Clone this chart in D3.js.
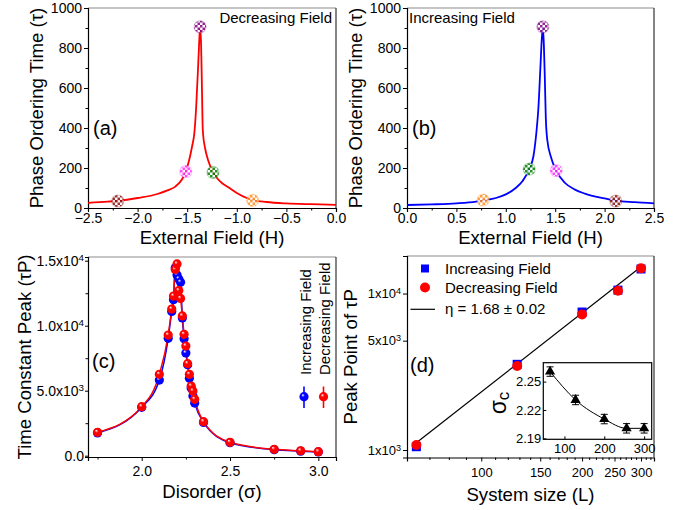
<!DOCTYPE html>
<html>
<head>
<meta charset="utf-8">
<script src="https://cdn.jsdelivr.net/npm/d3@7.9.0/dist/d3.min.js"></script>
<style>
body{margin:0;background:#fff}
svg{font-family:"Liberation Sans",Arial,sans-serif}
</style>
</head>
<body>
<svg id="chart" width="689" height="510"></svg>
<script>
// (a) decreasing field curve
const decH   = [-2.5,-2.3,-2.2,-2.0,-1.8,-1.7,-1.62,-1.55,-1.515,-1.48,-1.45,-1.428,-1.41,-1.39,-1.38,-1.37,-1.36,-1.355,-1.35,-1.345,-1.34,-1.32,-1.29,-1.24,-1.2,-1.15,-1.09,-1.0,-0.9,-0.84,-0.7,-0.5,-0.25,0];
const decTau = [26,32,36,50,70,88,107,145,182,240,310,374,500,707,820,900,820,700,560,420,370,300,240,180,150,125,105,75,50,40,30,23,19,16];
const decMarkH   = [-2.2,-1.515,-1.37,-1.24,-0.84];
const decMarkTau = [35,182,906,178,38];
const decMarkCol = ["brown","magenta","purple","green","orange"];

// (b) increasing field curve
const incH   = [0,0.25,0.5,0.7,0.77,0.9,1.0,1.1,1.17,1.237,1.28,1.31,1.33,1.35,1.365,1.375,1.385,1.395,1.405,1.42,1.46,1.51,1.6,1.7,1.8,2.0,2.113,2.3,2.5];
const incTau = [15,18,23,32,38,50,68,100,135,194,260,380,500,700,850,900,820,650,450,340,250,187,125,92,72,48,37,29,23];
const incMarkH   = [0.77,1.237,1.375,1.51,2.113];
const incMarkTau = [40,194,906,187,35];
const incMarkCol = ["orange","green","purple","magenta","brown"];

// (c) time constant peak vs disorder
const sigma  = [1.75,2.00,2.10,2.15,2.17,2.18,2.19,2.20,2.21,2.22,2.23,2.24,2.25,2.26,2.27,2.28,2.29,2.30,2.35,2.50,2.75,2.90,3.00];
const tpDec  = [1800,3770,6260,9280,11280,12280,14330,14750,12700,12100,10750,9340,8440,7080,6260,5360,4980,4340,2620,1030,490,380,310];
const tpInc  = [1750,3720,5820,9030,11100,12000,14450,13900,13600,13350,10600,9000,7900,7000,5950,5200,4600,4050,2560,1000,460,350,290];

// (d) peak point vs system size
const sizeL   = [64,128,200,256,300];
const peakInc = [1050,3530,7620,10520,14360];
const peakDec = [1076,3444,7360,10420,14490];
const fitL    = [64,300];
const fitTau  = [1113,14830];

// inset: critical disorder
const sigmaC    = [2.2606,2.2306,2.2104,2.2006,2.2006];
const sigmaCErr = [0.005,0.005,0.005,0.005,0.005];

const colors = {brown:"#8b1010", magenta:"#ff30ff", purple:"#800080", green:"#008000", orange:"#ff8c1a"};

const svg = d3.select("#chart");
const defs = svg.append("defs");

Object.entries(colors).forEach(([k, c]) => {
    const p = defs.append("pattern").attr("id", "chk-" + k)
        .attr("patternUnits", "userSpaceOnUse").attr("width", 5).attr("height", 5);
    p.append("rect").attr("width", 5).attr("height", 5).attr("fill", "#fff");
    p.append("rect").attr("width", 2.5).attr("height", 2.5).attr("fill", c);
    p.append("rect").attr("x", 2.5).attr("y", 2.5).attr("width", 2.5).attr("height", 2.5).attr("fill", c);
});

function sphereGrad(id, c) {
    const g = defs.append("radialGradient").attr("id", id)
        .attr("cx", "50%").attr("cy", "50%").attr("r", "55%").attr("fx", "35%").attr("fy", "30%");
    g.append("stop").attr("offset", "0%").attr("stop-color", "#fff");
    g.append("stop").attr("offset", "35%").attr("stop-color", c);
    g.append("stop").attr("offset", "100%").attr("stop-color", c);
}
sphereGrad("sph-red", "#ff0000");
sphereGrad("sph-blue", "#0000ff");

// top + right border
function box(x0, x1, y0, y1) {
    svg.append("line").attr("x1", x0).attr("x2", x1).attr("y1", y0).attr("y2", y0)
        .attr("stroke", "#8c8c8c").attr("stroke-width", 1.2);
    svg.append("line").attr("x1", x1).attr("x2", x1).attr("y1", y0).attr("y2", y1)
        .attr("stroke", "#333").attr("stroke-width", 1.2);
}

function styleAxis(g, fs) {
    g.select(".domain").attr("stroke", "#000").attr("stroke-width", 1.2);
    g.selectAll(".tick line").attr("stroke", "#000");
    g.selectAll(".tick text").attr("font-size", fs).attr("fill", "#000").attr("font-family", null);
}

function sciText(g, base, exp) {
    g.selectAll(".tick text").each(function(d, i) {
        const t = d3.select(this).text(null);
        t.append("tspan").text(base[i]);
        if (exp[i]) t.append("tspan").attr("dy", "-0.45em").attr("font-size", "0.7em").text(exp[i]);
    });
}

function yTitle(x, y, txt) {
    return svg.append("text").attr("transform", `translate(${x},${y}) rotate(-90)`)
        .attr("text-anchor", "middle").attr("font-size", 18.6).text(txt);
}
function xTitle(x, y, txt) {
    return svg.append("text").attr("x", x).attr("y", y)
        .attr("text-anchor", "middle").attr("font-size", 18.6).text(txt);
}

// ---------- panels (a) and (b) ----------
function fieldPanel(left, right, xDom, xTickVals, H, tau, mH, mTau, mCol, lineCol, note, noteAnchor, tag) {
    const top = 8, bottom = 208;
    const x = d3.scaleLinear().domain(xDom).range([left, right]);
    const y = d3.scaleLinear().domain([0, 1000]).range([bottom, top]);

    box(left, right, top, bottom);
    svg.append("g").attr("transform", `translate(0,${bottom})`)
        .call(d3.axisBottom(x).tickValues(d3.range(xDom[0] + 0.25, xDom[1], 0.5)).tickSize(2.5).tickFormat(""))
        .call(g => g.select(".domain").remove());
    svg.append("g").attr("transform", `translate(${left},0)`)
        .call(d3.axisLeft(y).tickValues(d3.range(100, 1000, 200)).tickSize(2.5).tickFormat(""))
        .call(g => g.select(".domain").remove());
    svg.append("g").attr("transform", `translate(0,${bottom})`)
        .call(d3.axisBottom(x).tickValues(xTickVals).tickSize(4).tickPadding(1.5).tickFormat(d3.format(".1f")))
        .call(g => styleAxis(g, 14));
    svg.append("g").attr("transform", `translate(${left},0)`)
        .call(d3.axisLeft(y).tickValues([0, 200, 400, 600, 800, 1000]).tickSize(4).tickPadding(2).tickFormat(d3.format("d")))
        .call(g => styleAxis(g, 14));

    const line = d3.line().x((d, i) => x(H[i])).y((d, i) => y(tau[i])).curve(d3.curveMonotoneX);
    svg.append("path").attr("d", line(H)).attr("fill", "none")
        .attr("stroke", lineCol).attr("stroke-width", 1.8);

    svg.append("g").selectAll("circle").data(mH).join("circle")
        .attr("cx", d => x(d)).attr("cy", (d, i) => y(mTau[i])).attr("r", 6)
        .attr("fill", (d, i) => `url(#chk-${mCol[i]})`)
        .attr("stroke", (d, i) => colors[mCol[i]]).attr("stroke-opacity", 0.35).attr("stroke-width", 1.2)
        .attr("opacity", 0.85);

    svg.append("text").attr("x", noteAnchor === "end" ? right - 4 : left + 2).attr("y", 23)
        .attr("text-anchor", noteAnchor).attr("font-size", 15).text(note);
    svg.append("text").attr("x", left + 5).attr("y", 135).attr("font-size", 20).text(tag);
    yTitle(left - 45, (top + bottom) / 2, "Phase Ordering Time (τ)");
    xTitle((left + right) / 2, 243.5, "External Field (H)");
}

fieldPanel(88, 336, [-2.5, 0], [-2.5, -2.0, -1.5, -1.0, -0.5, 0.0], decH, decTau,
    decMarkH, decMarkTau, decMarkCol, "#ff0000", "Decreasing Field", "end", "(a)");
fieldPanel(407, 654, [0, 2.5], [0.0, 0.5, 1.0, 1.5, 2.0, 2.5], incH, incTau,
    incMarkH, incMarkTau, incMarkCol, "#0000ff", "Increasing Field", "start", "(b)");

// ---------- panel (c) ----------
{
    const left = 88, right = 336, top = 257, bottom = 457;
    const x = d3.scaleLinear().domain([1.696, 3.1]).range([left, right]);
    const y = d3.scaleLinear().domain([-100, 15285]).range([bottom, top]);

    box(left, right, top, bottom);
    svg.append("g").attr("transform", `translate(0,${bottom})`)
        .call(d3.axisBottom(x).tickValues([1.75, 2.25, 2.75]).tickSize(2.5).tickFormat(""))
        .call(g => g.select(".domain").remove());
    svg.append("g").attr("transform", `translate(${left},0)`)
        .call(d3.axisLeft(y).tickValues([2500, 7500, 12500]).tickSize(2.5).tickFormat(""))
        .call(g => g.select(".domain").remove());
    svg.append("g").attr("transform", `translate(0,${bottom})`)
        .call(d3.axisBottom(x).tickValues([2.0, 2.5, 3.0]).tickSize(4).tickPadding(5).tickFormat(d3.format(".1f")))
        .call(g => styleAxis(g, 14));
    svg.append("g").attr("transform", `translate(${left},0)`)
        .call(d3.axisLeft(y).tickValues([0, 5000, 10000, 15000]).tickSize(3).tickPadding(1))
        .call(g => styleAxis(g, 14))
        .call(g => sciText(g, ["0.0", "5.0x10", "1.0x10", "1.5x10"], ["", "3", "4", "4"]));

    const lineInc = d3.line().x((d, i) => x(sigma[i])).y(d => y(d)).curve(d3.curveMonotoneX);
    svg.append("path").attr("d", lineInc(tpInc)).attr("fill", "none").attr("stroke", "#0000ff").attr("stroke-width", 1.5);
    svg.append("path").attr("d", lineInc(tpDec)).attr("fill", "none").attr("stroke", "#ff0000").attr("stroke-width", 1.5);

    svg.append("g").selectAll("circle").data(tpInc).join("circle")
        .attr("cx", (d, i) => x(sigma[i])).attr("cy", d => y(d)).attr("r", 4.6).attr("fill", "url(#sph-blue)");
    svg.append("g").selectAll("circle").data(tpDec).join("circle")
        .attr("cx", (d, i) => x(sigma[i])).attr("cy", d => y(d)).attr("r", 4.6).attr("fill", "url(#sph-red)");

    // legend
    [["#0000ff", "sph-blue", 304, "Increasing Field", 311], ["#ff0000", "sph-red", 323.5, "Decreasing Field", 329.5]]
        .forEach(([c, g, cx, t, tx]) => {
            svg.append("line").attr("x1", cx).attr("x2", cx).attr("y1", 386.5).attr("y2", 408)
                .attr("stroke", c).attr("stroke-width", 1.6);
            svg.append("circle").attr("cx", cx).attr("cy", 396.7).attr("r", 4.6).attr("fill", `url(#${g})`);
            svg.append("text").attr("transform", `translate(${tx},375) rotate(-90)`)
                .attr("font-size", 15).text(t);
        });

    svg.append("text").attr("x", 92).attr("y", 368).attr("font-size", 20).text("(c)");
    yTitle(31, (top + bottom) / 2, "Time Constant Peak (τP)");
    xTitle((left + right) / 2, 498, "Disorder (σ)");
}

// ---------- panel (d) ----------
{
    const left = 407, right = 654, top = 256, bottom = 457.5;
    const x = d3.scaleLog().domain([60, 328]).range([left, right]);
    const y = d3.scaleLog().domain([896, 17380]).range([bottom, top]);

    box(left, right, top, bottom);
    svg.append("g").attr("transform", `translate(0,${bottom})`)
        .call(d3.axisBottom(x).tickValues(d3.range(60, 330, 10).filter(v => v % 50)).tickSize(2.5).tickFormat(""))
        .call(g => g.select(".domain").remove());
    svg.append("g").attr("transform", `translate(0,${bottom})`)
        .call(d3.axisBottom(x).tickValues([100, 150, 200, 250, 300]).tickSize(4).tickPadding(6).tickFormat(d3.format("d")))
        .call(g => styleAxis(g, 13));
    svg.append("g").attr("transform", `translate(${left},0)`)
        .call(d3.axisLeft(y).tickValues([1000, 5000, 10000]).tickSize(4).tickPadding(2))
        .call(g => styleAxis(g, 13))
        .call(g => sciText(g, ["1x10", "5x10", "1x10"], ["3", "3", "4"]));

    const fit = d3.line().x((d, i) => x(fitL[i])).y(d => y(d));
    svg.append("path").attr("d", fit(fitTau)).attr("fill", "none").attr("stroke", "#000").attr("stroke-width", 1.2);

    svg.append("g").selectAll("rect").data(peakInc).join("rect")
        .attr("x", (d, i) => x(sizeL[i]) - 4.5).attr("y", d => y(d) - 4.5)
        .attr("width", 9).attr("height", 9).attr("fill", "#0000ff");
    svg.append("g").selectAll("circle").data(peakDec).join("circle")
        .attr("cx", (d, i) => x(sizeL[i])).attr("cy", d => y(d)).attr("r", 5).attr("fill", "#ff0000");

    // legend
    svg.append("rect").attr("x", 421).attr("y", 264.5).attr("width", 8).attr("height", 8).attr("fill", "#0000ff");
    svg.append("text").attr("x", 445).attr("y", 274).attr("font-size", 15).text("Increasing Field");
    svg.append("circle").attr("cx", 425).attr("cy", 287.5).attr("r", 5).attr("fill", "#ff0000");
    svg.append("text").attr("x", 445).attr("y", 292.7).attr("font-size", 15).text("Decreasing Field");
    svg.append("line").attr("x1", 410.5).attr("x2", 435).attr("y1", 309.3).attr("y2", 309.3).attr("stroke", "#000").attr("stroke-width", 1.2);
    svg.append("text").attr("x", 445).attr("y", 313.5).attr("font-size", 15).text("η = 1.68 ± 0.02");

    svg.append("text").attr("x", 410).attr("y", 372).attr("font-size", 20).text("(d)");
    yTitle(356.5, (top + bottom) / 2, "Peak Point of τP");
    xTitle((left + right) / 2, 501, "System size (L)");

    // inset
    const il = 543.3, ir = 651.7, it = 362.7, ib = 439.3;
    const xi = d3.scaleLinear().domain([47, 319]).range([il, ir]);
    const yi = d3.scaleLinear().domain([2.189, 2.27]).range([ib, it]);
    svg.append("rect").attr("x", il).attr("y", it).attr("width", ir - il).attr("height", ib - it)
        .attr("fill", "#fff").attr("stroke", "#000").attr("stroke-width", 1.2);
    svg.append("g").attr("transform", `translate(0,${ib})`)
        .call(d3.axisBottom(xi).tickValues([100, 200, 300]).tickSize(-3).tickPadding(4))
        .call(g => styleAxis(g, 13)).call(g => g.select(".domain").remove());
    svg.append("g").attr("transform", `translate(${il},0)`)
        .call(d3.axisLeft(yi).tickValues([2.19, 2.22, 2.25]).tickSize(-3).tickPadding(2).tickFormat(d3.format(".2f")))
        .call(g => styleAxis(g, 13)).call(g => g.select(".domain").remove());

    const iline = d3.line().x((d, i) => xi(sizeL[i])).y(d => yi(d)).curve(d3.curveMonotoneX);
    svg.append("path").attr("d", iline(sigmaC)).attr("fill", "none").attr("stroke", "#000").attr("stroke-width", 1);

    const eb = svg.append("g").selectAll("g").data(sigmaC).join("g")
        .attr("transform", (d, i) => `translate(${xi(sizeL[i])},0)`);
    eb.append("line").attr("y1", (d, i) => yi(d - sigmaCErr[i])).attr("y2", (d, i) => yi(d + sigmaCErr[i]))
        .attr("stroke", "#000").attr("stroke-width", 1);
    eb.append("line").attr("x1", -3.5).attr("x2", 3.5)
        .attr("y1", (d, i) => yi(d - sigmaCErr[i])).attr("y2", (d, i) => yi(d - sigmaCErr[i])).attr("stroke", "#000");
    eb.append("line").attr("x1", -3.5).attr("x2", 3.5)
        .attr("y1", (d, i) => yi(d + sigmaCErr[i])).attr("y2", (d, i) => yi(d + sigmaCErr[i])).attr("stroke", "#000");
    eb.append("path").attr("d", d3.symbol(d3.symbolTriangle, 45))
        .attr("transform", d => `translate(0,${yi(d)})`).attr("fill", "#000");

    const sc = svg.append("text").attr("transform", "translate(506,403) rotate(-90)").attr("text-anchor", "middle");
    sc.append("tspan").attr("font-size", 23).text("σ");
    sc.append("tspan").attr("font-size", 17).attr("dy", 3).text("c");
}
</script>
</body>
</html>
